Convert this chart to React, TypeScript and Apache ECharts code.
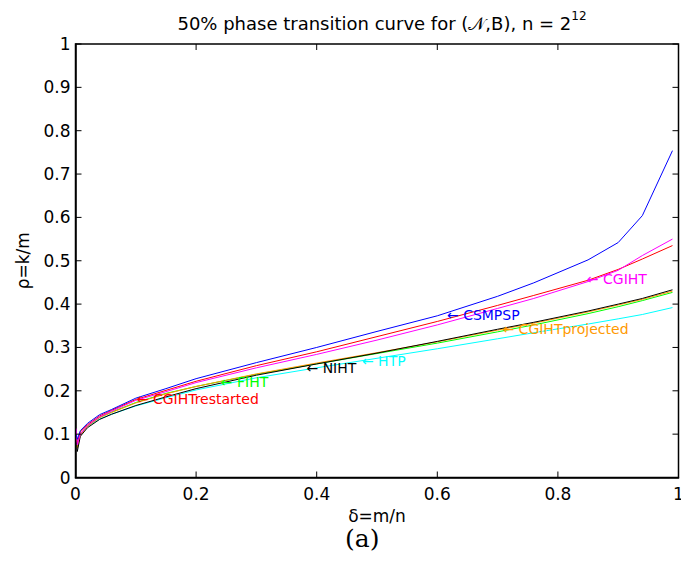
import React, { useEffect, useRef } from "react";
import * as echarts from "echarts";

const deltas = [0.001, 0.003, 0.008, 0.02, 0.04, 0.06, 0.1, 0.15, 0.2, 0.3, 0.4, 0.5, 0.6, 0.7, 0.76, 0.85, 0.9, 0.94, 0.99];

const csmpsp = [0.100, 0.088, 0.108, 0.125, 0.145, 0.157, 0.183, 0.205, 0.228, 0.265, 0.300, 0.337, 0.373, 0.418, 0.449, 0.502, 0.542, 0.604, 0.754];
const cgihtRestarted = [0.095, 0.080, 0.105, 0.122, 0.142, 0.155, 0.180, 0.201, 0.222, 0.258, 0.290, 0.325, 0.360, 0.397, 0.420, 0.455, 0.480, 0.504, 0.535];
const cgiht = [0.113, 0.075, 0.100, 0.120, 0.140, 0.153, 0.178, 0.198, 0.219, 0.253, 0.284, 0.317, 0.352, 0.390, 0.413, 0.452, 0.478, 0.512, 0.550];
const niht = [0.090, 0.060, 0.095, 0.115, 0.134, 0.146, 0.166, 0.186, 0.205, 0.236, 0.262, 0.287, 0.314, 0.342, 0.358, 0.384, 0.400, 0.413, 0.433];
const cgihtProjected = [0.095, 0.068, 0.098, 0.118, 0.138, 0.150, 0.172, 0.193, 0.210, 0.239, 0.264, 0.288, 0.313, 0.340, 0.356, 0.382, 0.398, 0.411, 0.430];
const fiht = [0.092, 0.070, 0.100, 0.119, 0.139, 0.151, 0.173, 0.194, 0.210, 0.238, 0.262, 0.286, 0.310, 0.336, 0.352, 0.378, 0.394, 0.408, 0.427];
const htp = [0.095, 0.078, 0.100, 0.118, 0.135, 0.146, 0.165, 0.184, 0.202, 0.230, 0.253, 0.275, 0.297, 0.320, 0.334, 0.354, 0.366, 0.376, 0.392];

const xTicks = [0, 0.2, 0.4, 0.6, 0.8, 1];
const yTicks = [0, 0.1, 0.2, 0.3, 0.4, 0.5, 0.6, 0.7, 0.8, 0.9, 1];

const seriesNames = ["HTP", "FIHT", "CGIHTprojected", "NIHT", "CGIHTrestarted", "CGIHT", "CSMPSP"];
const seriesValues = [htp, fiht, cgihtProjected, niht, cgihtRestarted, cgiht, csmpsp];
const seriesColors = ["#00ffff", "#00ff00", "#ff9900", "#000000", "#ff0000", "#ff00ff", "#0000ff"];
// annotation anchor (delta, rho) for each series' "← name" label
const labelAnchors: [number, number][] = [
  [0.475, 0.269],
  [0.241, 0.221],
  [0.708, 0.342],
  [0.383, 0.252],
  [0.1015, 0.18],
  [0.848, 0.457],
  [0.616, 0.375],
];

const FONT = "DejaVu Sans";

export default function App() {
  const ref = useRef<HTMLDivElement>(null);
  useEffect(() => {
    if (!ref.current) return;
    const chart = echarts.init(ref.current, null, { renderer: "svg" });
    const lineSeries = seriesNames.map((name, i) => ({
      name,
      type: "line",
      data: deltas.map((d, j) => [d, seriesValues[i][j]]),
      symbol: "none",
      lineStyle: { color: seriesColors[i], width: 1 },
      itemStyle: { color: seriesColors[i] },
      markPoint: {
        symbol: "circle",
        symbolSize: 0,
        silent: true,
        data: [{ coord: labelAnchors[i] }],
        label: {
          show: true,
          position: "right",
          distance: 0,
          formatter: "← " + name,
          color: seriesColors[i],
          fontFamily: FONT,
          fontSize: 14,
        },
      },
    }));
    const aText = {
      id: "atext",
      type: "text",
      left: 345,
      top: 526,
      style: { text: "(a)", fontFamily: "DejaVu Serif", fontSize: 25, fill: "#000" },
    };
    chart.setOption({
      animation: false,
      title: {
        left: 377,
        top: 5,
        textAlign: "center",
        text: "50% phase transition curve for (𝒩,B), n = 2{sup|12}",
        textStyle: {
          fontFamily: FONT,
          fontSize: 18,
          fontWeight: "normal",
          color: "#000",
          lineHeight: 26,
          rich: {
            sup: { fontFamily: FONT, fontSize: 12, color: "#000", verticalAlign: "top", lineHeight: 26 },
          },
        },
      },
      grid: {
        left: 75.5,
        right: 2.5,
        top: 44,
        bottom: 85.5,
        outerBoundsMode: "none",
      },
      xAxis: {
        type: "value",
        min: 0,
        max: 1,
        interval: 0.2,
        position: "bottom",
        name: "δ=m/n",
        nameLocation: "middle",
        nameGap: 28,
        nameTextStyle: { fontFamily: FONT, fontSize: 17, color: "#000" },
        axisLine: { show: true, onZero: false, lineStyle: { color: "#000", width: 1.5 } },
        axisTick: { show: false },
        splitLine: { show: false },
        axisLabel: { fontFamily: FONT, fontSize: 17, color: "#000", margin: 8 },
      },
      yAxis: {
        type: "value",
        min: 0,
        max: 1,
        interval: 0.1,
        position: "left",
        name: "ρ=k/m",
        nameLocation: "middle",
        nameGap: 44,
        nameTextStyle: { fontFamily: FONT, fontSize: 17, color: "#000" },
        axisLine: { show: true, onZero: false, lineStyle: { color: "#000", width: 1.5 } },
        axisTick: { show: false },
        splitLine: { show: false },
        axisLabel: { fontFamily: FONT, fontSize: 17, color: "#000", margin: 5 },
      },
      graphic: [aText],
      series: lineSeries,
    });

    // Frame box and inward ticks on all four sides, positioned through the chart's own scales.
    const px = (x: number, y: number) =>
      chart.convertToPixel({ xAxisIndex: 0, yAxisIndex: 0 }, [x, y]) as number[];
    const [x0, y0] = px(0, 0);
    const [x1, y1] = px(1, 1);
    const stroke = { stroke: "#000", lineWidth: 1 };
    const elems: any[] = [aText];
    elems.push({
      id: "frame",
      type: "rect",
      z: 100,
      silent: true,
      shape: { x: x0, y: y1, width: x1 - x0, height: y0 - y1 },
      style: { fill: "none", stroke: "#000", lineWidth: 1.5 },
    });
    const T = 6;
    xTicks.forEach((v, k) => {
      const [xp] = px(v, 0);
      elems.push({ id: "xb" + k, type: "line", z: 100, silent: true, shape: { x1: xp, y1: y0, x2: xp, y2: y0 - T }, style: stroke });
      elems.push({ id: "xt" + k, type: "line", z: 100, silent: true, shape: { x1: xp, y1: y1, x2: xp, y2: y1 + T }, style: stroke });
    });
    yTicks.forEach((v, k) => {
      const [, yp] = px(0, v);
      elems.push({ id: "yl" + k, type: "line", z: 100, silent: true, shape: { x1: x0, y1: yp, x2: x0 + T, y2: yp }, style: stroke });
      elems.push({ id: "yr" + k, type: "line", z: 100, silent: true, shape: { x1: x1, y1: yp, x2: x1 - T, y2: yp }, style: stroke });
    });
    chart.setOption({ graphic: elems });
    return () => chart.dispose();
  }, []);
  return (
    <div
      ref={ref}
      style={{ position: "absolute", left: 0, top: 0, width: 681, height: 563, background: "#fff" }}
    />
  );
}
